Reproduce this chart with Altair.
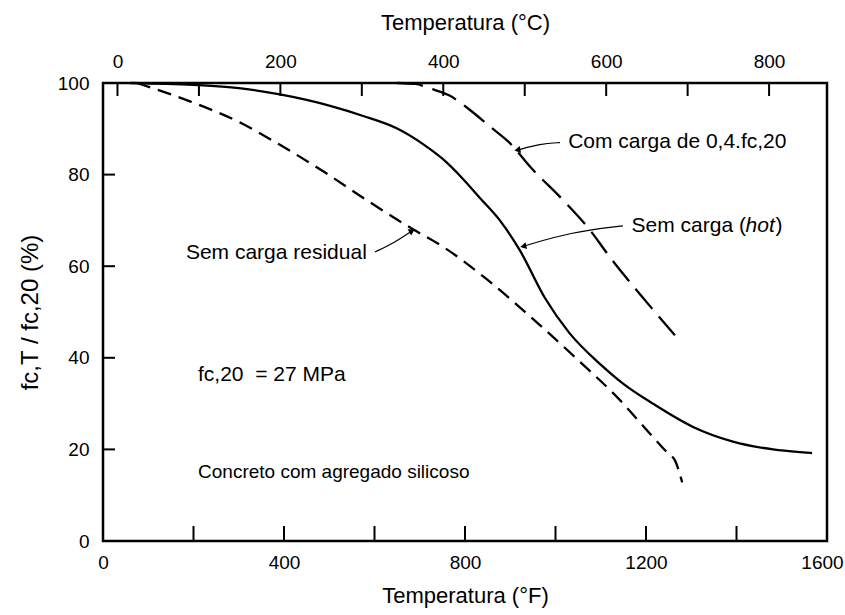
import altair as alt
import pandas as pd

# Compressive strength ratio of siliceous-aggregate concrete versus temperature.
# Temperatures in °F, strength in % of fc,20.
hot_f = [60, 200, 300, 391, 450, 502, 575, 649, 708, 752, 796, 833, 877, 921, 977,
         1030, 1100, 1150, 1215, 1304, 1392, 1481, 1540, 1567]
hot_pct = [100, 99.6, 98.9, 97.5, 96.3, 95.0, 92.8, 90.1, 86.6, 83.3, 79.0, 74.9, 70.0,
           63.5, 53.0, 45.5, 38.5, 34.3, 30.0, 24.9, 21.7, 20.0, 19.4, 19.2]

res_f = [75, 192, 300, 391, 490, 583, 686, 752, 850, 950, 1050, 1143, 1202,
         1250, 1264, 1280]
res_pct = [100, 96.0, 91.5, 86.5, 80.5, 74.4, 68.0, 64.2, 57.0, 48.5, 39.5,
           30.7, 24.2, 19.0, 17.6, 12.8]

load_f = [650, 690, 723, 767, 811, 855, 900, 944, 1017, 1076, 1120, 1190, 1264]
load_pct = [100, 99.8, 98.8, 97.2, 94.1, 90.5, 86.8, 81.7, 74.4, 67.9, 62.0,
            53.5, 44.9]

# Axis ticks and labels
f_labels = [0, 400, 800, 1200, 1600]
f_minor = [200, 400, 600, 800, 1000, 1200, 1400]
pct_labels = [0, 20, 40, 60, 80, 100]
pct_minor = [20, 40, 60, 80]
c_ticks = [0, 100, 200, 300, 400, 500, 600, 700, 800]

# Annotation texts (anchor in °F / %)
note_text = ["Com carga de 0,4.fc,20", "fc,20 \u00a0= 27 MPa"]
note_f = [1028, 210]
note_pct = [87.2, 36.2]

concrete_text = ["Concreto com agregado silicoso"]
concrete_f = [210]
concrete_pct = [15.1]

residual_label = ["Sem carga residual"]
residual_label_f = [583]
residual_label_pct = [62.9]

hot_label_f = [1168]
hot_label_pct = [68.8]

# Leader arrows: path points and tip direction
arrow_id = ["load", "load", "load", "hot", "hot", "hot", "res", "res", "res"]
arrow_f = [1010, 966, 918, 1149, 1032, 931, 601, 645, 681]
arrow_pct = [87.0, 86.7, 85.4, 68.8, 67.4, 64.4, 63.1, 65.2, 67.6]
tip_f = [918, 931, 681]
tip_pct = [85.4, 64.4, 67.6]
tip_angle = [260, 258, 60]

W, H = 724, 458
FONT = "Liberation Sans"

F_DOMAIN = [0, 1600]
C_DOMAIN = [(0 - 32) / 1.8, (1600 - 32) / 1.8]

f_scale = alt.Scale(domain=F_DOMAIN, nice=False, zero=False)
p_scale = alt.Scale(domain=[0, 100], nice=False, zero=False)

x_f = alt.X(
    "f:Q", scale=f_scale,
    axis=alt.Axis(values=f_labels, format="d", ticks=False, domain=False, grid=False,
                  labelFlush=False, labelPadding=12,
                  labelOffset={"condition": {"test": "datum.value == 1600", "value": -5},
                               "value": 0},
                  title="Temperatura (°F)", titlePadding=13, titleFontSize=22),
)
y_p = alt.Y(
    "p:Q", scale=p_scale,
    axis=alt.Axis(values=pct_labels, ticks=False, domain=False, grid=False,
                  labelPadding=14, title="fc,T / fc,20 (%)", titlePadding=15,
                  titleFontSize=24),
)

df_hot = pd.DataFrame({"f": hot_f, "p": hot_pct})
df_res = pd.DataFrame({"f": res_f, "p": res_pct})
df_load = pd.DataFrame({"f": load_f, "p": load_pct})

hot = alt.Chart(df_hot).mark_line(color="black", strokeWidth=2.3,
                                  interpolate="monotone").encode(x=x_f, y=y_p)
res = alt.Chart(df_res).mark_line(color="black", strokeWidth=2.3, strokeDash=[14, 8],
                                  interpolate="monotone").encode(x=x_f, y=y_p)
load = alt.Chart(df_load).mark_line(color="black", strokeWidth=2.3, strokeDash=[26, 10],
                                    interpolate="monotone").encode(x=x_f, y=y_p)

# Inward ticks on bottom and left edges
bottom_ticks = alt.Chart(pd.DataFrame({"f": f_minor})).mark_rule(
    color="black", strokeWidth=2).encode(x=x_f, y=alt.value(H), y2=alt.value(H - 15))
left_ticks = alt.Chart(pd.DataFrame({"p": pct_minor})).mark_rule(
    color="black", strokeWidth=2).encode(y=y_p, x=alt.value(0), x2=alt.value(12))

text_style = dict(font=FONT, fontSize=21, color="black", baseline="middle")

notes = alt.Chart(pd.DataFrame({"f": note_f, "p": note_pct, "t": note_text})).mark_text(
    align="left", **text_style).encode(x=x_f, y=y_p, text="t:N")
concrete = alt.Chart(pd.DataFrame({"f": concrete_f, "p": concrete_pct,
                                   "t": concrete_text})).mark_text(
    align="left", font=FONT, fontSize=19, color="black", baseline="middle").encode(
    x=x_f, y=y_p, text="t:N")
res_note = alt.Chart(pd.DataFrame({"f": residual_label_f, "p": residual_label_pct,
                                   "t": residual_label})).mark_text(
    align="right", **text_style).encode(x=x_f, y=y_p, text="t:N")

df_hot_lbl = pd.DataFrame({"f": hot_label_f, "p": hot_label_pct})
hot_a = alt.Chart(df_hot_lbl).mark_text(align="left", text="Sem carga (", **text_style).encode(x=x_f, y=y_p)
hot_b = alt.Chart(df_hot_lbl).mark_text(align="left", text="hot", fontStyle="italic", dx=114,
                                        **text_style).encode(x=x_f, y=y_p)
hot_c = alt.Chart(df_hot_lbl).mark_text(align="left", text=")", dx=144, **text_style).encode(x=x_f, y=y_p)

arrows = alt.Chart(pd.DataFrame({"f": arrow_f, "p": arrow_pct, "a": arrow_id})).mark_line(
    color="black", strokeWidth=1.2, interpolate="basis").encode(x=x_f, y=y_p, detail="a:N")
heads = alt.Chart(pd.DataFrame({"f": tip_f, "p": tip_pct, "ang": tip_angle})).mark_point(
    shape="triangle", filled=True, size=50, color="black", opacity=1).encode(
    x=x_f, y=y_p, angle=alt.Angle("ang:Q", scale=None))

main = alt.layer(bottom_ticks, left_ticks, hot, res, load, arrows, heads,
                 notes, concrete, res_note, hot_a, hot_b, hot_c)

# Celsius axis on top, with inward ticks every 100 °C
top = alt.Chart(pd.DataFrame({"c": c_ticks})).mark_rule(color="black", strokeWidth=2).encode(
    x=alt.X("c:Q", scale=alt.Scale(domain=C_DOMAIN, nice=False, zero=False),
            axis=alt.Axis(orient="top", values=c_ticks,
                          labelExpr="datum.value % 200 == 0 ? datum.label : ''",
                          ticks=False, domain=False, grid=False, labelFlush=False,
                          labelPadding=12, title="Temperatura (°C)", titlePadding=18,
                          titleFontSize=22)),
    y=alt.value(0), y2=alt.value(13),
)

chart = (
    alt.layer(main, top)
    .resolve_scale(x="independent")
    .properties(
        width=W, height=H,
        padding={"left": 103, "top": 83, "right": 18, "bottom": 74},
        autosize=alt.AutoSizeParams(type="none"),
        background="white",
    )
    .configure_view(stroke="black", strokeWidth=2.5)
    .configure_axis(labelFont=FONT, titleFont=FONT, labelFontSize=19, titleFontSize=21,
                    labelColor="black", titleColor="black", titleFontWeight="normal")
)

chart.save("out.html", embed_options={"renderer": "svg", "actions": False})
